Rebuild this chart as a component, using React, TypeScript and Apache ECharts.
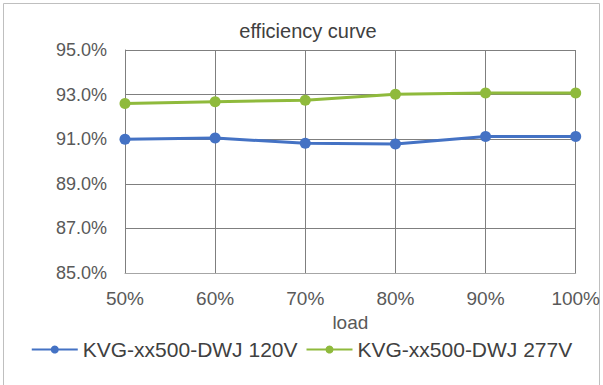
import React, { useEffect, useRef } from "react";
import * as echarts from "echarts";

const categories = ["50%", "60%", "70%", "80%", "90%", "100%"];
const series120 = [91.0, 91.05, 90.82, 90.78, 91.12, 91.12];
const series277 = [92.6, 92.68, 92.75, 93.02, 93.07, 93.07];
const seriesNames = ["KVG-xx500-DWJ 120V", "KVG-xx500-DWJ 277V"];

export default function App() {
  const ref = useRef<HTMLDivElement>(null);
  useEffect(() => {
    const chart = echarts.init(ref.current!, null, { renderer: "svg" });
    const font = "'Liberation Sans', Arial, sans-serif";
    chart.setOption({
      animation: false,
      backgroundColor: "#ffffff",
      title: {
        text: "efficiency curve",
        left: 303,
        top: 16,
        textAlign: "center",
        textStyle: { fontSize: 20, fontWeight: "normal", color: "#404040", fontFamily: font },
      },
      graphic: [
        {
          type: "rect",
          shape: { x: 3.5, y: 3.5, width: 596, height: 390 },
          style: { fill: "none", stroke: "#bfbfbf", lineWidth: 1 },
        },
      ],
      legend: {
        bottom: 20,
        left: "center",
        itemWidth: 46,
        itemHeight: 10,
        itemGap: 8,
        textStyle: { fontSize: 21, color: "#404040", fontFamily: font },
        data: seriesNames,
      },
      grid: { left: 125, right: 20, top: 50, bottom: 112 },
      xAxis: {
        type: "category",
        data: categories,
        boundaryGap: false,
        name: "load",
        nameLocation: "middle",
        nameGap: 36,
        nameTextStyle: { fontSize: 19, color: "#595959", fontFamily: font },
        axisLine: { show: true, lineStyle: { color: "#a6a6a6" } },
        axisTick: { show: false },
        axisLabel: { fontSize: 19, color: "#595959", margin: 16, fontFamily: font },
        splitLine: { show: true, lineStyle: { color: "#7f7f7f", width: 1 } },
      },
      yAxis: {
        type: "value",
        min: 85,
        max: 95,
        interval: 2,
        axisLine: { show: true, lineStyle: { color: "#7f7f7f" } },
        axisTick: { show: false },
        axisLabel: {
          fontSize: 18,
          color: "#595959",
          margin: 18,
          fontFamily: font,
          formatter: (v: number) => v.toFixed(1) + "%",
        },
        splitLine: { show: true, lineStyle: { color: "#7f7f7f", width: 1 } },
      },
      series: [
        {
          name: seriesNames[0],
          type: "line",
          data: series120,
          symbol: "circle",
          symbolSize: 11,
          lineStyle: { width: 3, color: "#4472c4" },
          itemStyle: { color: "#4472c4" },
        },
        {
          name: seriesNames[1],
          type: "line",
          data: series277,
          symbol: "circle",
          symbolSize: 11,
          lineStyle: { width: 3, color: "#8fba3c" },
          itemStyle: { color: "#8fba3c" },
        },
      ],
    });
    return () => chart.dispose();
  }, []);
  return (
    <div
      ref={ref}
      style={{ position: "absolute", left: 0, top: 0, width: 603, height: 385 }}
    />
  );
}
